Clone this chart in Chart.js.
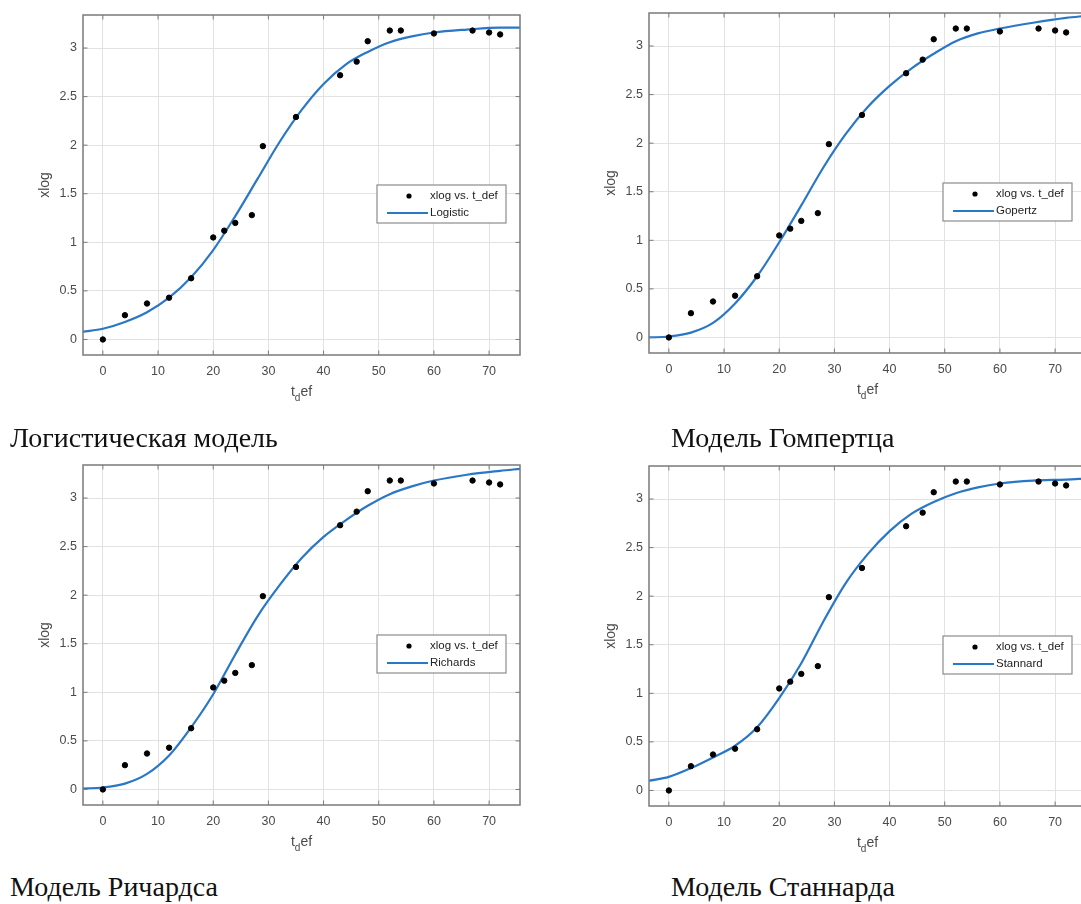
<!DOCTYPE html>
<html>
<head>
<meta charset="utf-8">
<script src="https://cdn.jsdelivr.net/npm/chart.js@4.4.1/dist/chart.umd.min.js"></script>
<style>
    body {
        margin: 0;
        width: 1081px;
        height: 904px;
        overflow: hidden;
        background: #fff;
        position: relative;
    }
    .panel {
        position: absolute;
        width: 540px;
        height: 410px;
    }
    .caption {
        position: absolute;
        font-family: "Liberation Serif", "Times New Roman", serif;
        font-size: 28px;
        line-height: 28px;
        color: #111;
        white-space: nowrap;
    }
</style>
</head>
<body>
<div class="panel" style="left:0; top:0"><canvas id="logistic" width="540" height="410"></canvas></div>
<div class="panel" style="left:566px; top:-2px"><canvas id="gompertz" width="540" height="410"></canvas></div>
<div class="panel" style="left:0; top:450px"><canvas id="richards" width="540" height="410"></canvas></div>
<div class="panel" style="left:566px; top:451px"><canvas id="stannard" width="540" height="410"></canvas></div>

<div class="caption" style="left:10px; top:424px">Логистическая модель</div>
<div class="caption" style="left:671px; top:424px">Модель Гомпертца</div>
<div class="caption" style="left:10px; top:873px">Модель Ричардса</div>
<div class="caption" style="left:671px; top:873px">Модель Станнарда</div>

<script>
// measured points (same in every panel)
const tDef = [0, 4, 8, 12, 16, 20, 22, 24, 27, 29, 35, 43, 46, 48, 52, 54, 60, 67, 70, 72];
const xlog = [0.00, 0.25, 0.37, 0.43, 0.63, 1.05, 1.12, 1.20, 1.28, 1.99, 2.29, 2.72, 2.86, 3.07, 3.18, 3.18, 3.15, 3.18, 3.16, 3.14];

// fitted curves, sampled along t
const fitT        = [-3.6, 0, 4, 8, 12, 16, 20, 24, 28, 32, 36, 40, 44, 48, 52, 56, 60, 66, 72, 75.6];
const logisticFit = [0.08, 0.11, 0.18, 0.28, 0.43, 0.64, 0.92, 1.27, 1.65, 2.03, 2.36, 2.63, 2.83, 2.96, 3.06, 3.12, 3.16, 3.19, 3.21, 3.21];
const gompertzFit = [0.00, 0.01, 0.05, 0.15, 0.35, 0.63, 0.98, 1.36, 1.75, 2.09, 2.37, 2.59, 2.77, 2.92, 3.05, 3.13, 3.18, 3.24, 3.29, 3.31];
const richardsFit = [0.01, 0.02, 0.06, 0.16, 0.35, 0.64, 0.98, 1.39, 1.78, 2.10, 2.38, 2.60, 2.77, 2.92, 3.04, 3.12, 3.18, 3.24, 3.28, 3.30];
const stannardFit = [0.10, 0.14, 0.23, 0.34, 0.46, 0.65, 0.95, 1.31, 1.74, 2.13, 2.43, 2.67, 2.85, 2.97, 3.06, 3.12, 3.16, 3.19, 3.20, 3.21];

const xTicks = [0, 10, 20, 30, 40, 50, 60, 70];
const yTicks = [0, 0.5, 1, 1.5, 2, 2.5, 3];
const xLimits = [-3.6, 75.6];
const yLimits = [-0.16, 3.34];

const frameColor = '#7a7a7a';
const labelColor = '#4a4a4a';
const lineBlue = '#2a77c5';
const sans = '"Liberation Sans", Arial, sans-serif';

// box, inside ticks, axis titles and legend in the usual MATLAB look
const matlabFrame = {
    id: 'matlabFrame',
    afterDraw(chart) {
        const ctx = chart.ctx;
        const a = chart.chartArea;
        const x = chart.scales.x;
        const y = chart.scales.y;
        const tick = 4.5;

        ctx.save();
        ctx.strokeStyle = frameColor;
        ctx.lineWidth = 1.5;
        ctx.strokeRect(a.left, a.top, a.right - a.left, a.bottom - a.top);

        ctx.lineWidth = 1;
        ctx.beginPath();
        xTicks.forEach(v => {
            const px = x.getPixelForValue(v);
            ctx.moveTo(px, a.bottom); ctx.lineTo(px, a.bottom - tick);
            ctx.moveTo(px, a.top); ctx.lineTo(px, a.top + tick);
        });
        yTicks.forEach(v => {
            const py = y.getPixelForValue(v);
            ctx.moveTo(a.left, py); ctx.lineTo(a.left + tick, py);
            ctx.moveTo(a.right, py); ctx.lineTo(a.right - tick, py);
        });
        ctx.stroke();

        // y title
        ctx.fillStyle = labelColor;
        ctx.font = '14px ' + sans;
        ctx.textAlign = 'center';
        ctx.textBaseline = 'middle';
        ctx.save();
        ctx.translate(45, (a.top + a.bottom) / 2);
        ctx.rotate(-Math.PI / 2);
        ctx.fillText('xlog', 0, 0);
        ctx.restore();

        // x title: t_def with the d as subscript
        const base = a.bottom + 41;
        ctx.textAlign = 'left';
        ctx.textBaseline = 'alphabetic';
        ctx.font = '14px ' + sans;
        const wT = ctx.measureText('t').width;
        const wEf = ctx.measureText('ef').width;
        ctx.font = '10px ' + sans;
        const wD = ctx.measureText('d').width;
        let cx = (a.left + a.right) / 2 - (wT + wD + wEf) / 2;
        ctx.font = '14px ' + sans;
        ctx.fillText('t', cx, base);
        cx += wT;
        ctx.font = '10px ' + sans;
        ctx.fillText('d', cx, base + 5);
        cx += wD;
        ctx.font = '14px ' + sans;
        ctx.fillText('ef', cx, base);

        // legend box
        const sets = chart.data.datasets;
        const w = 129, h = 38;
        const lx = a.right - 14 - w;
        const ly = a.top + 170;
        ctx.fillStyle = '#fff';
        ctx.fillRect(lx, ly, w, h);
        ctx.strokeStyle = '#8c8c8c';
        ctx.lineWidth = 1.2;
        ctx.strokeRect(lx, ly, w, h);

        ctx.fillStyle = '#000';
        ctx.beginPath();
        ctx.arc(lx + 32, ly + 11, 2.6, 0, Math.PI * 2);
        ctx.fill();

        ctx.strokeStyle = sets[1].borderColor;
        ctx.lineWidth = 2;
        ctx.beginPath();
        ctx.moveTo(lx + 10, ly + 28);
        ctx.lineTo(lx + 51, ly + 28);
        ctx.stroke();

        ctx.fillStyle = '#222';
        ctx.font = '11.5px ' + sans;
        ctx.textBaseline = 'middle';
        ctx.fillText(sets[0].label, lx + 53, ly + 11);
        ctx.fillText(sets[1].label, lx + 53, ly + 28);
        ctx.restore();
    }
};

function toPoints(xs, ys) {
    return xs.map((v, i) => ({ x: v, y: ys[i] }));
}

function drawPanel(canvasId, fitName, fitValues) {
    const ctx = document.getElementById(canvasId).getContext('2d');
    return new Chart(ctx, {
        type: 'scatter',
        data: {
            datasets: [{
                label: 'xlog vs. t_def',
                data: toPoints(tDef, xlog),
                backgroundColor: '#000',
                borderColor: '#000',
                pointRadius: 2.7,
                pointHoverRadius: 2.7
            }, {
                label: fitName,
                data: toPoints(fitT, fitValues),
                showLine: true,
                borderColor: lineBlue,
                borderWidth: 2.2,
                pointRadius: 0,
                pointHoverRadius: 0,
                cubicInterpolationMode: 'monotone'
            }]
        },
        options: {
            responsive: false,
            animation: false,
            events: [],
            layout: { padding: { top: 15, right: 20, left: 0, bottom: 0 } },
            plugins: {
                legend: { display: false },
                tooltip: { enabled: false }
            },
            scales: {
                x: {
                    type: 'linear',
                    min: xLimits[0],
                    max: xLimits[1],
                    afterBuildTicks: s => { s.ticks = xTicks.map(v => ({ value: v })); },
                    afterFit: s => { s.height = 55; },
                    grid: { color: '#e2e2e2', lineWidth: 1, drawTicks: false },
                    border: { display: false },
                    ticks: {
                        padding: 9,
                        color: labelColor,
                        font: { family: sans, size: 12.5 },
                        maxRotation: 0,
                        callback: v => String(v)
                    }
                },
                y: {
                    type: 'linear',
                    min: yLimits[0],
                    max: yLimits[1],
                    afterBuildTicks: s => { s.ticks = yTicks.map(v => ({ value: v })); },
                    afterFit: s => { s.width = 83; },
                    grid: { color: '#e2e2e2', lineWidth: 1, drawTicks: false },
                    border: { display: false },
                    ticks: {
                        padding: 6,
                        color: labelColor,
                        font: { family: sans, size: 12.5 },
                        callback: v => String(v)
                    }
                }
            }
        },
        plugins: [matlabFrame]
    });
}

drawPanel('logistic', 'Logistic', logisticFit);
drawPanel('gompertz', 'Gopertz', gompertzFit);
drawPanel('richards', 'Richards', richardsFit);
drawPanel('stannard', 'Stannard', stannardFit);
</script>
</body>
</html>
